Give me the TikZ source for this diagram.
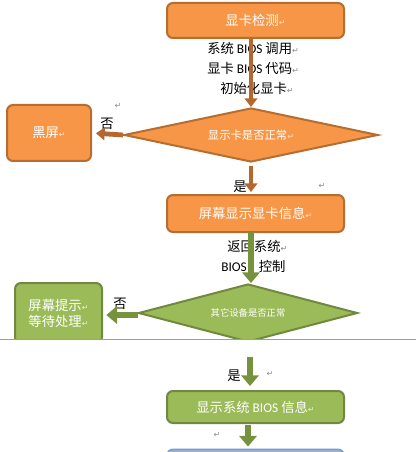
\documentclass[tikz,border=0pt]{standalone}
\usepackage{fontspec}
\setmainfont{Carlito}
\newfontfamily\cjk{Noto Sans CJK SC}
\newfontfamily\dvs{DejaVu Sans}
\usetikzlibrary{arrows.meta,shapes.geometric}
\definecolor{orF}{HTML}{F79646}
\definecolor{orD}{HTML}{B66D31}
\definecolor{orA}{HTML}{B4682E}
\definecolor{grF}{HTML}{9BBB59}
\definecolor{grD}{HTML}{71893F}
\definecolor{grA}{HTML}{76923C}
\definecolor{blF}{HTML}{95B3D7}
\definecolor{blD}{HTML}{7F9DC4}
\definecolor{pmc}{HTML}{8A8A8A}
\newcommand\pmk[1][pmc]{{\dvs\fontsize{6}{6}\selectfont\textcolor{#1}{↵}}}
\newcommand\bios{{\rmfamily BIOS}}
\begin{document}
\begin{tikzpicture}[x=0.75pt,y=-0.75pt,
  font=\cjk\fontsize{10}{12}\selectfont,
  lbl/.style={inner sep=0pt},
  obox/.style={draw=orD, fill=orF, line width=1.5pt, rounded corners=4.5pt, text=white, inner sep=0pt},
  gbox/.style={draw=grD, fill=grF, line width=1.5pt, rounded corners=4.5pt, text=white, inner sep=0pt},
  bbox/.style={draw=blD, fill=blF, line width=1.2pt, rounded corners=4.5pt, inner sep=0pt},
  odia/.style={diamond, draw=orD, fill=orF, line width=1.5pt, inner sep=0pt, aspect=4.7, text=white},
  gdia/.style={diamond, draw=grD, fill=grF, line width=1.5pt, inner sep=0pt, aspect=3.8, text=white},
  barrow/.style={draw=orA, line width=3.6pt, -{Triangle[width=9.5pt,length=6.5pt]}},
  garrow/.style={draw=grA, line width=4.5pt, -{Triangle[width=13pt,length=8pt]}},
  pgline/.style={draw=black!38, line width=1.2pt}]
\clip (0,0) rectangle (416,452);
\fill[white] (0,0) rectangle (416,452);

% ---------- orange part ----------
\node[obox, minimum width=132.75pt, minimum height=26.25pt] (b1) at (255.5,20.5) {显卡检测\pmk[white!75!orF]};
\node[lbl, anchor=west] (t1) at (207,48) {系统 \bios\ 调用\pmk};
\node[lbl, anchor=west] (t2) at (207,68) {显卡 \bios\ 代码\pmk};
\node[lbl, anchor=west] (t3) at (220,88) {初始化显卡\pmk};

\node[odia, minimum width=190.5pt, minimum height=40.5pt] (d1) at (251,135)
  {\fontsize{8.5}{10}\selectfont 显示卡是否正常\pmk[white!75!orF]};
\node[obox, minimum width=63pt, minimum height=42pt] (blk) at (49,133) {黑屏\pmk[white!75!orF]};
\node[lbl] (no1) at (107,124) {否};
\node[lbl] (pm1) at (118,106) {\pmk};

\node[obox, minimum width=132.75pt, minimum height=27.75pt] (b2) at (255.5,213.5) {屏幕显示显卡信息\pmk[white!75!orF]};
\node[lbl] (yes1) at (240,187) {是};
\node[lbl] (pm2) at (322,186) {\pmk};

\draw[barrow] (b1.south -| d1.north) -- (d1.north);
\draw[barrow, shorten >=3pt] (d1.west) -- (blk.east);
\draw[barrow, shorten <=2pt, shorten >=1.5pt] (d1.south) -- (d1.south |- b2.north);

% ---------- green part (page 1) ----------
\node[lbl, anchor=west] (t4) at (227,246) {返回系统\pmk};
\node[lbl, anchor=west] (t5) at (221,266) {\bios\hspace{9pt}控制};

\begin{scope}
\clip (0,0) rectangle (416,339);
\node[gdia, minimum width=164.25pt, minimum height=43.5pt] (d2) at (248,313)
  {\fontsize{7}{8}\selectfont 其它设备是否正常};
\node[gbox, minimum width=65.25pt, minimum height=45pt, align=center] (wt) at (58.5,313)
  {\fontsize{10}{15.75}\selectfont 屏幕提示\pmk[white!75!grF]\\等待处理\pmk[white!75!grF]};
\end{scope}
\node[lbl] (no2) at (120,304) {否};

\coordinate (s4) at (251,232);
\draw[garrow] (s4) -- (s4 |- d2.north);
\draw[garrow, shorten >=2.5pt] ([yshift=-1.5pt]d2.west) -- ([yshift=-1.5pt]wt.east);

\draw[pgline] (0,339.5) -- (416,339.5);

% ---------- page 2 ----------
\coordinate (s6) at (250,357);
\node[lbl] (yes2) at (234,376) {是};
\node[lbl] (pm3) at (270,374) {\pmk};
\node[gbox, minimum width=132.75pt, minimum height=24pt] (b3) at (255.5,407) {显示系统 \bios\ 信息\pmk[white!75!grF]};
\node[lbl] (pm4) at (217,435) {\pmk};
\node[bbox, minimum width=132.75pt, minimum height=25pt] (bl) at (255.5,466) {};

\draw[garrow, shorten >=3pt] (s6) -- (s6 |- b3.north);
\coordinate (s7) at (248,425);
\draw[garrow, shorten >=1.5pt] (s7) -- (s7 |- bl.north);
\end{tikzpicture}
\end{document}
